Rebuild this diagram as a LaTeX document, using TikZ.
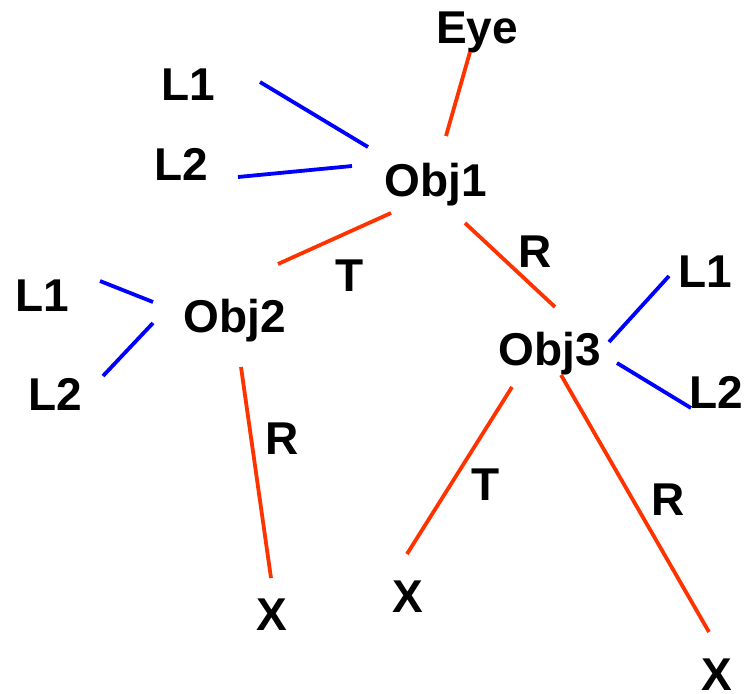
\documentclass[tikz,border=0pt]{standalone}
\usepackage{fontspec}
\setmainfont{Liberation Sans}
\definecolor{linkred}{RGB}{255,51,0}
\definecolor{lightblue}{RGB}{0,0,255}
\begin{document}
\begin{tikzpicture}[x=0.5pt,y=-0.5pt,
  lbl/.style={anchor=base,inner sep=0pt,font=\fontsize{23}{28}\selectfont\bfseries},
  ray/.style={linkred,line width=1.9pt},
  light/.style={lightblue,line width=1.9pt}]
\useasboundingbox (0,0) rectangle (751,693);
% nodes
\node[lbl] (eye) at (477,43) {Eye};
\node[lbl] (obj1) at (436,196) {Obj1};
\node[lbl] (l1a) at (188,100) {L1};
\node[lbl] (l2a) at (181,180) {L2};
\node[lbl] (obj2) at (235,332) {Obj2};
\node[lbl] (l1b) at (42,311) {L1};
\node[lbl] (l2b) at (55,410) {L2};
\node[lbl] (obj3) at (550,365) {Obj3};
\node[lbl] (l1c) at (705,287) {L1};
\node[lbl] (l2c) at (716,408) {L2};
\node[lbl] (x1) at (272,630) {X};
\node[lbl] (x2) at (408,612) {X};
\node[lbl] (x3) at (717,690) {X};
% edge labels
\node[lbl] (t1) at (350,291) {T};
\node[lbl] (r1) at (535,267) {R};
\node[lbl] (r2) at (282,454) {R};
\node[lbl] (t2) at (486,500) {T};
\node[lbl] (r3) at (668,515) {R};
% connector ends
\coordinate (eye-e) at (470,52);   \coordinate (obj1-eye) at (446,136);
\coordinate (l1a-e) at (260,82);   \coordinate (obj1-l1) at (368,147);
\coordinate (l2a-e) at (238,177);  \coordinate (obj1-l2) at (352,166);
\coordinate (obj1-t) at (391,213); \coordinate (obj2-t) at (278,264);
\coordinate (obj1-r) at (465,223); \coordinate (obj3-r) at (555,307);
\coordinate (l1b-e) at (100,281);  \coordinate (obj2-l1) at (153,302);
\coordinate (l2b-e) at (103,376);  \coordinate (obj2-l2) at (153,323);
\coordinate (obj2-x) at (241,367); \coordinate (x1-e) at (271,578);
\coordinate (l1c-e) at (669,276);  \coordinate (obj3-l1) at (609,342);
\coordinate (l2c-e) at (691,408);  \coordinate (obj3-l2) at (617,363);
\coordinate (obj3-t) at (512,387); \coordinate (x2-e) at (407,554);
\coordinate (obj3-x) at (561,375); \coordinate (x3-e) at (709,632);
% connectors
\draw[ray] (eye-e) -- (obj1-eye);
\draw[light] (l1a-e) -- (obj1-l1);
\draw[light] (l2a-e) -- (obj1-l2);
\draw[ray] (obj1-t) -- (obj2-t);
\draw[ray] (obj1-r) -- (obj3-r);
\draw[light] (l1b-e) -- (obj2-l1);
\draw[light] (l2b-e) -- (obj2-l2);
\draw[ray] (obj2-x) -- (x1-e);
\draw[light] (l1c-e) -- (obj3-l1);
\draw[light] (l2c-e) -- (obj3-l2);
\draw[ray] (obj3-t) -- (x2-e);
\draw[ray] (obj3-x) -- (x3-e);
\end{tikzpicture}
\end{document}
